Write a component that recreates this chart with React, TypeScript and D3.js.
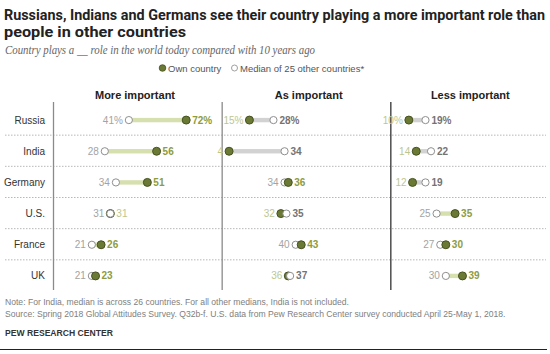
import React from "react";
import * as d3 from "d3";

const countries = ["Russia", "India", "Germany", "U.S.", "France", "UK"];
const panels = ["More important", "As important", "Less important"];

// own country value / median of other countries, per panel
const moreOwn = [72, 56, 51, 31, 26, 23];
const moreMedian = [41, 28, 34, 31, 21, 21];
const asOwn = [15, 4, 36, 32, 43, 36];
const asMedian = [28, 34, 34, 35, 40, 37];
const lessOwn = [10, 14, 12, 35, 30, 39];
const lessMedian = [19, 22, 19, 25, 27, 30];

const ownSeries = [moreOwn, asOwn, lessOwn];
const medianSeries = [moreMedian, asMedian, lessMedian];

const W = 550;
const H = 354;
const FONT = "'Liberation Sans', Arial, sans-serif";

const GREEN_DOT = "#6a7a34";
const GREEN_DOT_STROKE = "#46511f";
const GREEN_BAR = "#d6dfae";
const GREY_BAR = "#d2d2d2";
const GREEN_TEXT = "#8d9c40";
const GREEN_TEXT_LIGHT = "#bcc78e";
const GREY_TEXT = "#a3a3a3";
const GREY_TEXT_DARK = "#737373";

const App = () => {
  const panelX = d3.scaleBand().domain(panels).range([53, 559]);
  const x = d3.scaleLinear().domain([0, 100]).range([0, 185]);
  const y = d3.scaleBand().domain(countries).range([104.5, 291.5]);
  const yc = (c: string) => (y(c) as number) + y.bandwidth() / 2;

  const rows: any[] = [];
  panels.forEach((p, pi) => {
    countries.forEach((c, ci) => {
      const own = ownSeries[pi][ci];
      const med = medianSeries[pi][ci];
      rows.push({ p, pi, c, ci, own, med });
    });
  });

  return (
    <svg
      width={W}
      height={H}
      style={{ position: "absolute", left: 0, top: 0, background: "#fff" }}
    >
      <g fontFamily="Roboto, 'Liberation Sans', sans-serif" fontWeight="bold" fill="#222">
        <text x={4} y={20} fontSize={14} textLength={541} lengthAdjust="spacingAndGlyphs">
          Russians, Indians and Germans see their country playing a more important role than
        </text>
        <text x={4} y={37} fontSize={14} textLength={182} lengthAdjust="spacingAndGlyphs">
          people in other countries
        </text>
      </g>
      <text
        x={5}
        y={54}
        fontSize={11.5}
        fontStyle="italic"
        fontFamily="'Liberation Serif', Georgia, serif"
        fill="#666"
        textLength={310}
        lengthAdjust="spacingAndGlyphs"
      >
        Country plays a __ role in the world today compared with 10 years ago
      </text>

      {/* legend */}
      <g fontFamily={FONT} fontSize={9.5} fill="#555">
        <circle cx={162.5} cy={68} r={3.3} fill={GREEN_DOT} stroke={GREEN_DOT_STROKE} strokeWidth={0.8} />
        <text x={168} y={71.5}>Own country</text>
        <circle cx={234.5} cy={68} r={3} fill="#fff" stroke="#888" strokeWidth={0.8} />
        <text x={240} y={71.5}>Median of 25 other countries*</text>
      </g>

      {/* panel headers */}
      {panels.map((p, i) => (
        <text
          key={p}
          x={(panelX(p) as number) + [82, 87, 80][i]}
          y={99}
          textAnchor="middle"
          fontFamily={FONT}
          fontWeight="bold"
          fontSize={11}
          fill="#222"
        >
          {p}
        </text>
      ))}

      {/* row separators */}
      {countries.slice(1).map((c) => (
        <line
          key={c}
          x1={5}
          x2={546}
          y1={(y(c) as number) - 0.5}
          y2={(y(c) as number) - 0.5}
          stroke="#999"
          strokeWidth={0.7}
          strokeDasharray="1.5,1.5"
        />
      ))}

      {/* panel axis lines */}
      {panels.map((p, i) => (
        <line
          key={p}
          x1={(panelX(p) as number) + 0.5}
          x2={(panelX(p) as number) + 0.5}
          y1={102}
          y2={290}
          stroke={i === 2 ? "#333" : "#8a8a8a"}
          strokeWidth={1.3}
        />
      ))}

      {/* row labels */}
      {countries.map((c) => (
        <text
          key={c}
          x={45}
          y={yc(c) + 3.5}
          textAnchor="end"
          fontFamily={FONT}
          fontSize={10}
          fill="#333"
        >
          {c}
        </text>
      ))}

      {/* dumbbells */}
      {rows.map((r) => {
        const x0 = panelX(r.p) as number;
        const cy = yc(r.c);
        const xo = x0 + x(r.own);
        const xm = x0 + x(r.med);
        const up = r.own > r.med;
        const lo = Math.min(xo, xm);
        const hi = Math.max(xo, xm);
        const pct = r.ci === 0 ? "%" : "";
        const tie = r.own === r.med;

        // left / right labels
        const leftIsOwn = r.own < r.med;
        const leftVal = leftIsOwn ? r.own : r.med;
        const rightVal = leftIsOwn ? r.med : r.own;
        const leftFill = leftIsOwn ? GREEN_TEXT_LIGHT : GREY_TEXT;
        const rightFill = tie ? GREEN_TEXT_LIGHT : leftIsOwn ? GREY_TEXT_DARK : GREEN_TEXT;

        const ownDot = (
          <circle key="o" cx={xo} cy={cy} r={4} fill={GREEN_DOT} stroke={GREEN_DOT_STROKE} strokeWidth={1} />
        );
        const medDot = (
          <circle key="m" cx={xm} cy={cy} r={3.6} fill="#fff" stroke="#8f8f8f" strokeWidth={1} />
        );
        // the higher value sits on top; ties show the median on top
        const dots = up ? [medDot, ownDot] : [ownDot, medDot];

        return (
          <g key={r.p + r.c}>
            {hi - lo > 0 && (
              <rect x={lo} y={cy - 2.2} width={hi - lo} height={4.4} fill={up ? GREEN_BAR : GREY_BAR} />
            )}
            {dots}
            <text
              x={lo - 6}
              y={cy + 3.5}
              textAnchor="end"
              fontFamily={FONT}
              fontSize={10}
              fill={leftFill}
            >
              {leftVal + pct}
            </text>
            <text
              x={hi + 6}
              y={cy + 3.5}
              fontFamily={FONT}
              fontSize={10}
              fontWeight={tie ? "normal" : "bold"}
              fill={rightFill}
            >
              {rightVal + pct}
            </text>
          </g>
        );
      })}

      {/* notes */}
      <g fontFamily={FONT} fontSize={8.6} fill="#808080">
        <text x={5} y={305}>
          Note: For India, median is across 26 countries. For all other medians, India is not included.
        </text>
        <text x={5} y={317}>
          Source: Spring 2018 Global Attitudes Survey. Q32b-f. U.S. data from Pew Research Center survey conducted April 25-May 1, 2018.
        </text>
      </g>
      <text x={5} y={336} fontFamily={FONT} fontSize={8.6} fontWeight="bold" fill="#333">
        PEW RESEARCH CENTER
      </text>
      <line x1={0} x2={547} y1={349.5} y2={349.5} stroke="#222" strokeWidth={1} />
    </svg>
  );
};

export default App;
